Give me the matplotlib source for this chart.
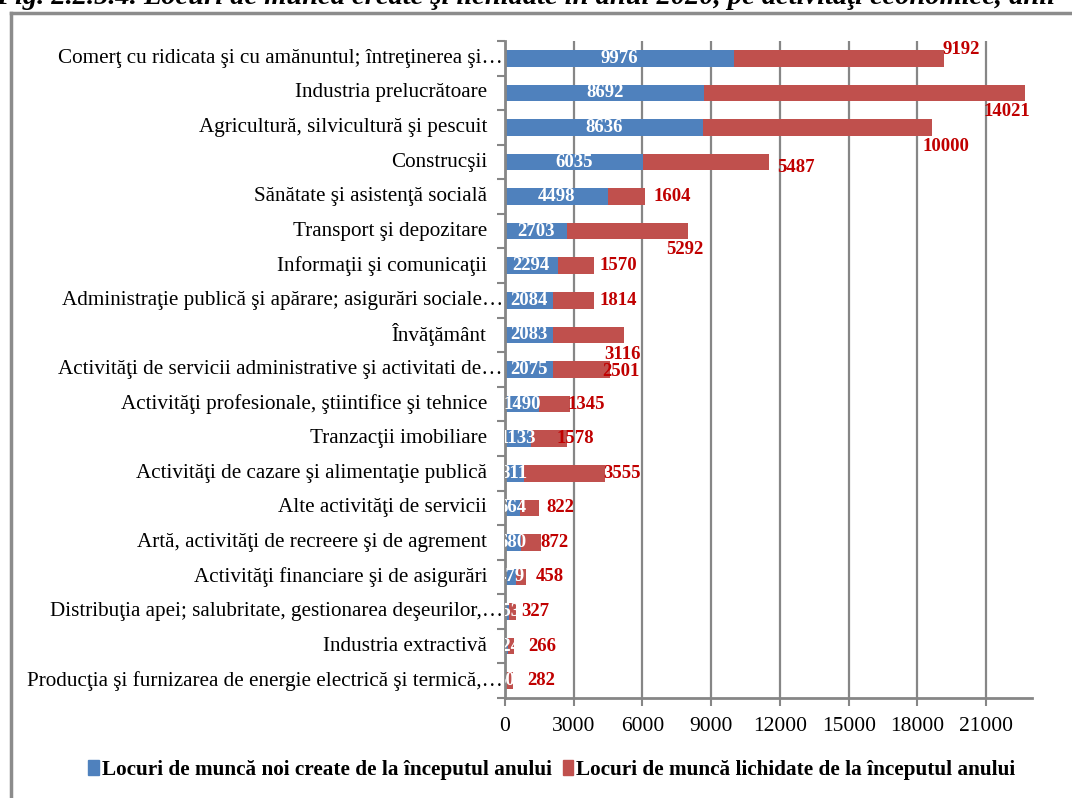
import matplotlib.pyplot as plt
from matplotlib.lines import Line2D
from matplotlib.patches import Patch

plt.rcParams["font.family"] = ["Liberation Serif", "DejaVu Serif"]

# Data (top to bottom as shown)
categories = [
    "Comerţ cu ridicata şi cu amănuntul; întreţinerea şi…",
    "Industria prelucrătoare",
    "Agricultură, silvicultură şi pescuit",
    "Construcşii",
    "Sănătate şi asistenţă socială",
    "Transport şi depozitare",
    "Informaţii şi comunicaţii",
    "Administraţie publică şi apărare; asigurări sociale…",
    "Învăţământ",
    "Activităţi de servicii administrative şi activitati de…",
    "Activităţi profesionale, ştiintifice şi tehnice",
    "Tranzacţii imobiliare",
    "Activităţi de cazare şi alimentaţie publică",
    "Alte activităţi de servicii",
    "Artă, activităţi de recreere şi de agrement",
    "Activităţi financiare şi de asigurări",
    "Distribuţia apei; salubritate, gestionarea deşeurilor,…",
    "Industria extractivă",
    "Producţia şi furnizarea de energie electrică şi termică,…",
]
created = [9976, 8692, 8636, 6035, 4498, 2703, 2294, 2084, 2083, 2075,
           1490, 1133, 811, 664, 680, 479, 153, 124, 50]
liquidated = [9192, 14021, 10000, 5487, 1604, 5292, 1570, 1814, 3116, 2501,
              1345, 1578, 3555, 822, 872, 458, 327, 266, 282]

# label offsets (pixels) for the red labels, as placed in the original
red_dx = [17, -19, 14, 27, 27, -3, 25, 24, -2, 11, 16, 8, 17, 21, 14, 23, 19, 28, 29]
red_dy = [9, -19, -19, -5, 0, -18, 0, 0, -20, -2, 0, 0, 0, 0, 0, 0, 0, 0, 0]

BLUE = "#4F81BD"
RED = "#C0504D"
GRID = "#868686"
W, H = 1072, 798

fig = plt.figure(figsize=(W / 100, H / 100), dpi=100)
ax = fig.add_axes([505 / W, 1 - 698 / H, (1032 - 505) / W, (698 - 41) / H])

pos = list(range(len(categories)))
ax.barh(pos, created, height=0.48, color=BLUE, zorder=3)
ax.barh(pos, liquidated, left=created, height=0.48, color=RED, zorder=3)

ax.set_xlim(0, 23000)
ax.set_ylim(len(categories) - 0.5, -0.5)
ax.set_xticks(range(0, 21001, 3000))
ax.set_xticklabels([str(v) for v in range(0, 21001, 3000)], fontsize=15.5)
ax.tick_params(axis="x", length=6, width=1.5, color=GRID, pad=8, direction="out")
ax.grid(axis="x", color=GRID, linewidth=1.6, zorder=0)

# category ticks between bars
ax.set_yticks([])
ax.set_yticks([p + 0.5 for p in pos] + [-0.5], minor=True)
ax.tick_params(axis="y", which="minor", length=6, width=1.5, color=GRID, direction="out")

for s in ["top", "right"]:
    ax.spines[s].set_visible(False)
for s in ["left", "bottom"]:
    ax.spines[s].set_color(GRID)
    ax.spines[s].set_linewidth(2)
    ax.spines[s].set_zorder(4)

# category labels (truncated ones run up to the axis)
for p, name in zip(pos, categories):
    dx = -2 if name.endswith("…") else -18
    ax.annotate(name, (0, p), xytext=(dx, 0), textcoords="offset pixels",
                ha="right", va="center", fontsize=15.2, annotation_clip=False)

# value labels
for p, c, l, dx, dy in zip(pos, created, liquidated, red_dx, red_dy):
    ax.text(c / 2, p, str(c), ha="center", va="center", color="white",
            fontsize=13.5, fontweight="bold", clip_on=True, zorder=5)
    ax.annotate(str(l), (c + l, p), xytext=(dx, dy), textcoords="offset pixels",
                ha="center", va="center", color="#C00000", fontsize=13.5,
                fontweight="bold", annotation_clip=False, zorder=5)

# legend
handles = [Patch(color=BLUE, label="Locuri de muncă noi create de la începutul anului"),
           Patch(color=RED, label="Locuri de muncă lichidate de la începutul anului")]
fig.legend(handles=handles, loc="center", bbox_to_anchor=(552 / W, 1 - 770 / H),
           ncol=2, frameon=False, handlelength=0.5, handleheight=0.7,
           handletextpad=0.15, columnspacing=0.5,
           prop={"weight": "bold", "size": 15.3})

# chart frame and the cut-off caption above it
fig.add_artist(Line2D([11 / W, 11 / W], [0, 1 - 13 / H], color="#8C8C8C",
                      linewidth=2.5, transform=fig.transFigure))
fig.add_artist(Line2D([11 / W, 1], [1 - 13 / H, 1 - 13 / H], color="#8C8C8C",
                      linewidth=2.5, transform=fig.transFigure))
fig.text(-4 / W, 1 - 4 / H,
         "Fig. 2.2.5.4. Locuri de muncă create şi lichidate în anul 2020, pe activităţi economice, anii",
         ha="left", va="baseline", fontsize=20.5, fontweight="bold", fontstyle="italic")

plt.savefig("out.png", dpi=100)
plt.close()
